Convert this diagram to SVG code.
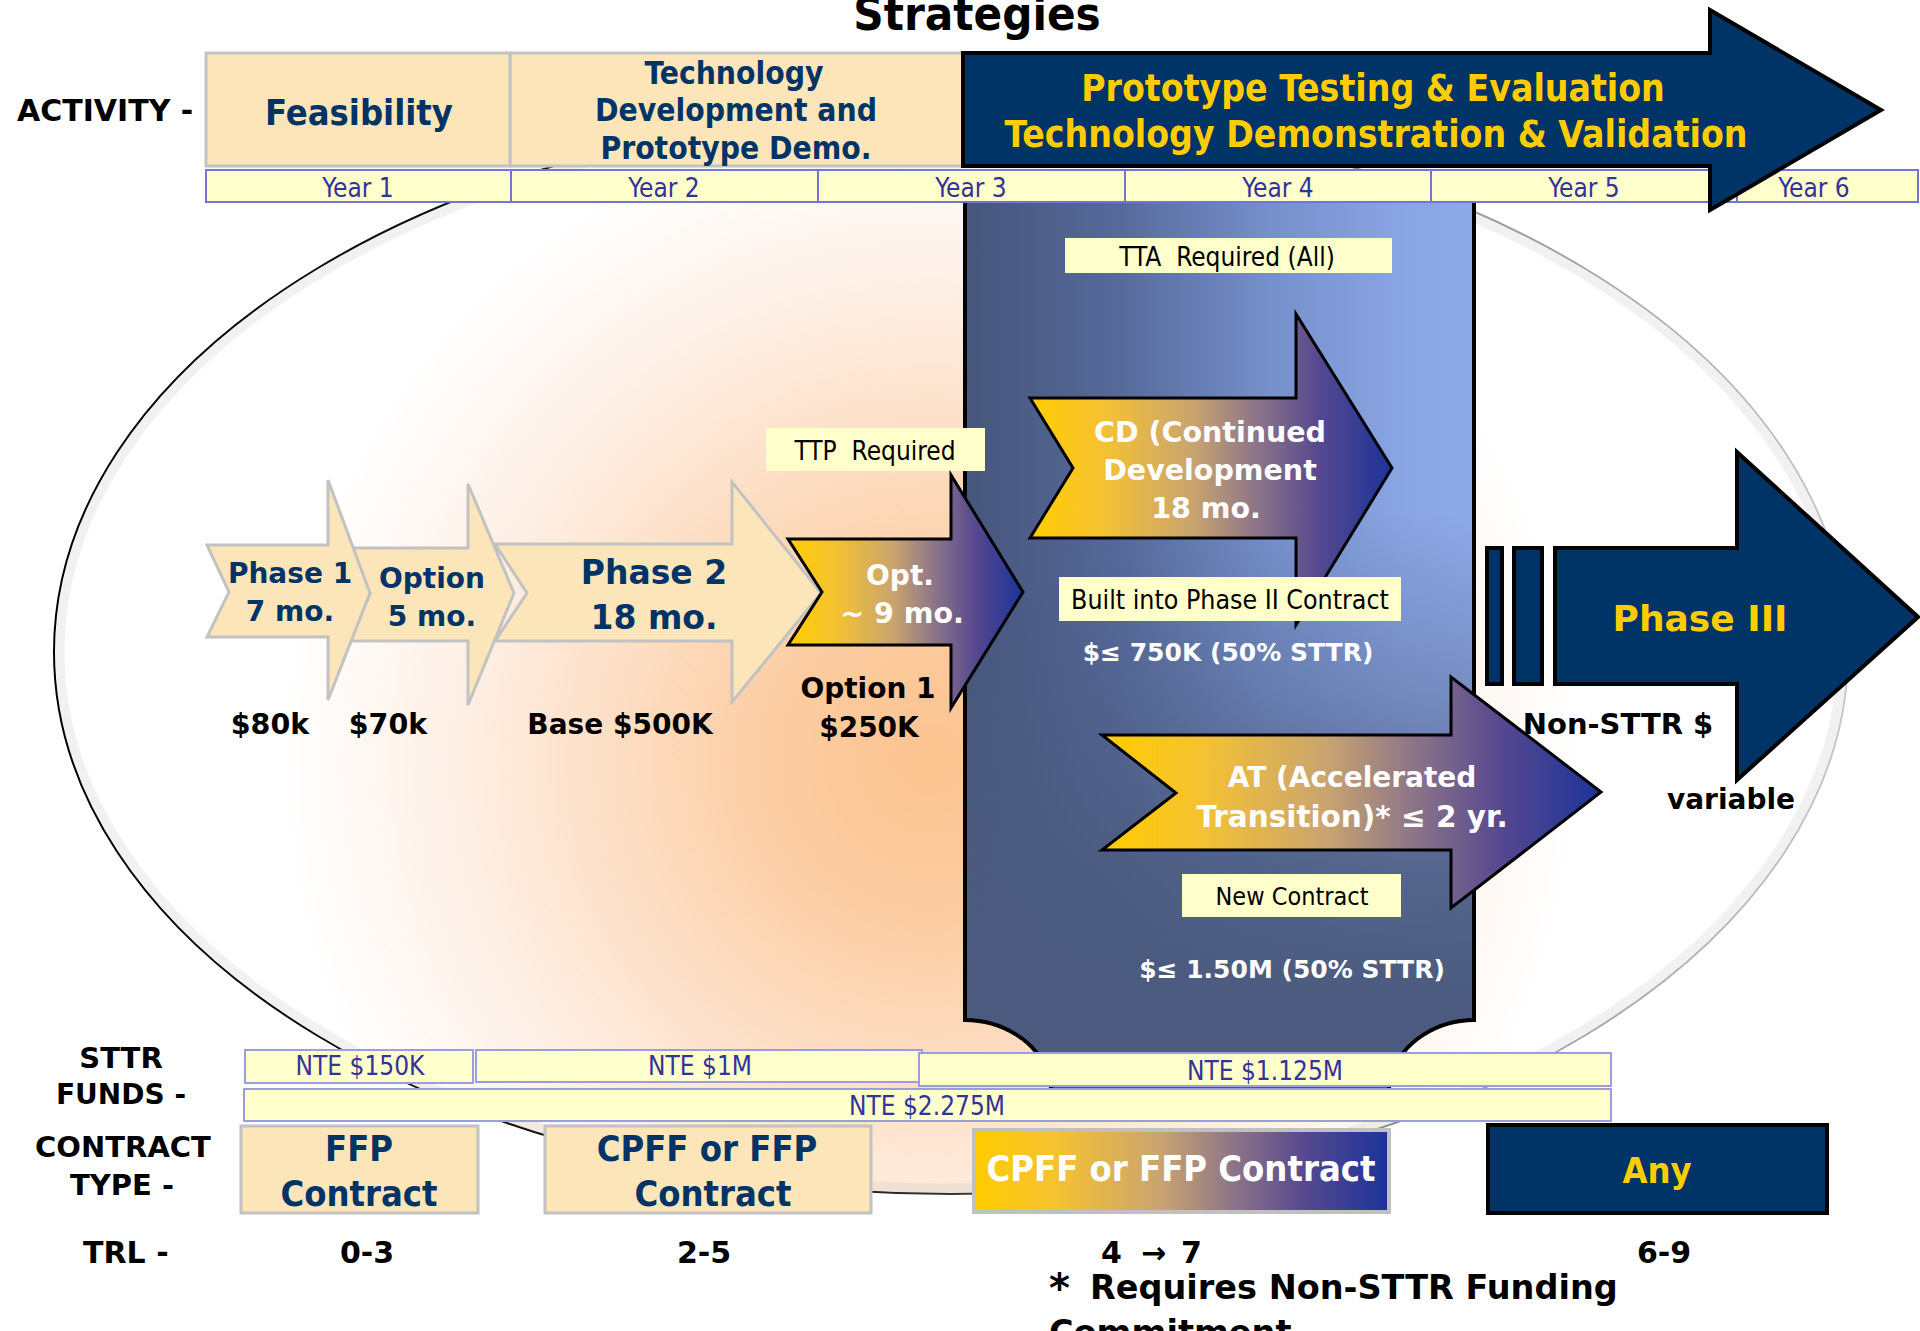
<svg xmlns="http://www.w3.org/2000/svg" width="1920" height="1331" viewBox="0 0 1920 1331">
<defs>
<style>
.b{font-family:'DejaVu Sans',Verdana,sans-serif;font-weight:bold}
.c{font-family:'DejaVu Sans Condensed','DejaVu Sans',sans-serif;font-stretch:condensed}
.cb{font-family:'DejaVu Sans Condensed','DejaVu Sans',sans-serif;font-stretch:condensed;font-weight:bold}
.m{text-anchor:middle}
.pre{white-space:pre}
.navy{fill:#003366}
.yel{fill:#FFCC00}
.wh{fill:#FFFFFF}
.blk{fill:#000000}
.yr{fill:#FFFFCC;stroke:#7474D4;stroke-width:2}
.yrt{fill:#333399}
.nte{fill:#FFFFCC;stroke:#9C9CE0;stroke-width:2}
.note{fill:#FFFFCC}
.tan{fill:#FCE5B9;stroke:#C2C2C2;stroke-width:3}
.grad{fill:url(#yb);stroke:#000;stroke-width:3;stroke-linejoin:miter}
.dark{fill:#003366;stroke:#000;stroke-width:4}
</style>
<linearGradient id="yb" x1="0" y1="0" x2="1" y2="0">
<stop offset="0" stop-color="#FFCC00"/>
<stop offset="0.2" stop-color="#F5C232"/>
<stop offset="0.45" stop-color="#C9A470"/>
<stop offset="0.62" stop-color="#8E7688"/>
<stop offset="0.8" stop-color="#55488F"/>
<stop offset="1" stop-color="#1C3399"/>
</linearGradient>
<radialGradient id="peach" gradientUnits="userSpaceOnUse" cx="930" cy="760" r="650">
<stop offset="0" stop-color="#FBC38F"/>
<stop offset="0.25" stop-color="#FCCDA3"/>
<stop offset="0.5" stop-color="#FDDFC6"/>
<stop offset="0.75" stop-color="#FEF1E8"/>
<stop offset="1" stop-color="#FFFFFF"/>
</radialGradient>
<linearGradient id="edge" gradientUnits="userSpaceOnUse" x1="54" y1="0" x2="1848" y2="0">
<stop offset="0" stop-color="#000"/>
<stop offset="0.45" stop-color="#222"/>
<stop offset="0.72" stop-color="#888"/>
<stop offset="1" stop-color="#C8C8C8"/>
</linearGradient>
<linearGradient id="panelH" x1="0" y1="0" x2="1" y2="0">
<stop offset="0" stop-color="#46557A"/>
<stop offset="0.3" stop-color="#56699A"/>
<stop offset="0.6" stop-color="#7690CB"/>
<stop offset="0.85" stop-color="#89A4E2"/>
<stop offset="1" stop-color="#8EAAE8"/>
</linearGradient>
<linearGradient id="panelV" x1="0" y1="0" x2="0" y2="1">
<stop offset="0" stop-color="#4B5A7E" stop-opacity="0"/>
<stop offset="0.35" stop-color="#4B5A7E" stop-opacity="0"/>
<stop offset="0.55" stop-color="#4B5A7E" stop-opacity="0.35"/>
<stop offset="0.75" stop-color="#4B5A7E" stop-opacity="0.85"/>
<stop offset="0.9" stop-color="#4B5A7E" stop-opacity="1"/>
</linearGradient>
</defs>

<rect width="1920" height="1331" fill="#FFFFFF"/>

<g id="background-ellipse">
<ellipse cx="951" cy="652" rx="897" ry="542" fill="url(#peach)" stroke="url(#edge)" stroke-width="2"/>
<ellipse cx="951" cy="652" rx="891" ry="536" fill="none" stroke="#BBBBBB" stroke-opacity="0.2" stroke-width="9"/>
</g>

<g id="title"><text class="cb m blk" x="977" y="30" font-size="47">Strategies</text></g>

<g id="phase2">
<path class="tan" d="M495,544 L732,544 L732,482 L821,593 L732,702 L732,641 L495,641 L527,593 Z"/>
<text class="b m navy" x="654" y="584" font-size="33">Phase 2</text>
<text class="b m navy" x="654" y="629" font-size="33">18 mo.</text>
</g>
<g id="option">
<path class="tan" d="M349,548 L468,548 L468,484 L514,593 L468,705 L468,641 L349,641 L370,594 Z"/>
<text class="b m navy" x="432" y="588" font-size="28">Option</text>
<text class="b m navy" x="432" y="626" font-size="28">5 mo.</text>
</g>
<g id="phase1">
<path class="tan" d="M207,545 L328,545 L328,480 L370,593 L328,700 L328,637 L207,637 L229,592 Z"/>
<text class="b m navy" x="290" y="583" font-size="28">Phase 1</text>
<text class="b m navy" x="290" y="621" font-size="28">7 mo.</text>
</g>
<g id="costs">
<text class="b m blk" x="270" y="734" font-size="28.5">$80k</text>
<text class="b m blk" x="388" y="734" font-size="28.5">$70k</text>
<text class="b m blk" x="620" y="734" font-size="28">Base $500K</text>
<text class="b m blk" x="868" y="698" font-size="28">Option 1</text>
<text class="b m blk" x="869" y="737" font-size="28">$250K</text>
</g>

<g id="phase2-panel">
<path d="M965,200 L1474,200 L1474,1020 C1440,1020 1402,1040 1392,1075 L1388,1092 L1052,1092 L1048,1075 C1038,1040 1000,1020 965,1020 Z" fill="url(#panelH)"/>
<path d="M965,200 L1474,200 L1474,1020 C1440,1020 1402,1040 1392,1075 L1388,1092 L1052,1092 L1048,1075 C1038,1040 1000,1020 965,1020 Z" fill="url(#panelV)" stroke="#000" stroke-width="4"/>
</g>

<g id="ttp">
<rect class="note" x="766" y="428" width="219" height="43"/>
<text class="c m blk pre" xml:space="preserve" x="875" y="460" font-size="26">TTP  Required</text>
</g>
<g id="opt">
<path class="grad" d="M788,539 L951,539 L951,475 L1023,592 L951,708 L951,645 L788,645 L822,592 Z"/>
<text class="b m wh" x="900" y="585" font-size="28">Opt.</text>
<text class="b m wh" x="902" y="623" font-size="28.5">~ 9 mo.</text>
</g>

<g id="tta">
<rect class="note" x="1065" y="238" width="327" height="35"/>
<text class="c m blk pre" xml:space="preserve" x="1227" y="266" font-size="26">TTA  Required (All)</text>
</g>
<g id="cd">
<path class="grad" d="M1030,398 L1296,398 L1296,314 L1392,468 L1296,625 L1296,538 L1030,538 L1073,468 Z"/>
<text class="b m wh" x="1210" y="442" font-size="28.5">CD (Continued</text>
<text class="b m wh" x="1210" y="480" font-size="28.5">Development</text>
<text class="b m wh" x="1206" y="518" font-size="28.5">18 mo.</text>
</g>
<g id="built">
<rect class="note" x="1059" y="577" width="342" height="44"/>
<text class="c m blk" x="1230" y="609" font-size="26.5">Built into Phase II Contract</text>
<text class="b m wh" x="1228" y="661" font-size="25">$≤ 750K (50% STTR)</text>
</g>
<g id="at">
<path class="grad" d="M1102,735 L1451,735 L1451,677 L1601,792 L1451,908 L1451,850 L1102,850 L1176,793 Z"/>
<text class="b m wh" x="1352" y="787" font-size="28">AT (Accelerated</text>
<text class="b m wh" x="1352" y="827" font-size="29.5">Transition)* ≤ 2 yr.</text>
</g>
<g id="newcontract">
<rect class="note" x="1182" y="874" width="219" height="43"/>
<text class="c m blk" x="1292" y="905" font-size="25">New Contract</text>
<text class="b m wh" x="1292" y="978" font-size="25">$≤ 1.50M (50% STTR)</text>
</g>

<g id="phase3">
<rect class="dark" x="1487" y="548" width="15" height="136" stroke-width="3"/>
<rect class="dark" x="1514" y="548" width="28" height="136" stroke-width="3"/>
<path class="dark" stroke-width="3" d="M1555,548 L1737,548 L1737,452 L1918,617 L1737,780 L1737,684 L1555,684 Z"/>
<text class="b m yel" x="1700" y="631" font-size="36">Phase III</text>
<text class="b m blk" x="1618" y="734" font-size="29">Non-STTR $</text>
<text class="b m blk" x="1731" y="809" font-size="28">variable</text>
</g>

<g id="activity-row">
<text class="b blk" x="17" y="121" font-size="30">ACTIVITY -</text>
<rect class="tan" x="510" y="53" width="462" height="113" stroke-width="4"/>
<rect class="tan" x="206" y="53" width="304" height="113" stroke-width="4"/>
<text class="cb m navy" x="359" y="125" font-size="36">Feasibility</text>
<text class="cb m navy" x="734" y="84" font-size="31.5">Technology</text>
<text class="cb m navy" x="736" y="121" font-size="31.5">Development and</text>
<text class="cb m navy" x="736" y="159" font-size="31.5">Prototype Demo.</text>
</g>

<g id="years">
<rect class="yr" x="206" y="170" width="305" height="32"/>
<rect class="yr" x="511" y="170" width="307" height="32"/>
<rect class="yr" x="818" y="170" width="307" height="32"/>
<rect class="yr" x="1125" y="170" width="306" height="32"/>
<rect class="yr" x="1431" y="170" width="306" height="32"/>
<rect class="yr" x="1737" y="170" width="181" height="32"/>
<text class="c m yrt" x="358" y="197" font-size="26">Year 1</text>
<text class="c m yrt" x="664" y="197" font-size="26">Year 2</text>
<text class="c m yrt" x="971" y="197" font-size="26">Year 3</text>
<text class="c m yrt" x="1278" y="197" font-size="26">Year 4</text>
<text class="c m yrt" x="1584" y="197" font-size="26">Year 5</text>
<text class="c m yrt" x="1814" y="197" font-size="26">Year 6</text>
</g>

<g id="prototype-arrow">
<path class="dark" d="M963,53 L1710,53 L1710,10 L1881,110 L1710,210 L1710,166 L963,166 Z"/>
<text class="cb m yel" x="1373" y="101" font-size="37">Prototype Testing &amp; Evaluation</text>
<text class="cb m yel" x="1376" y="147" font-size="37">Technology Demonstration &amp; Validation</text>
</g>

<g id="funds">
<text class="b m blk" x="121" y="1068" font-size="29">STTR</text>
<text class="b m blk" x="121" y="1104" font-size="28">FUNDS -</text>
<rect class="nte" x="476" y="1050" width="446" height="32"/>
<rect class="nte" x="245" y="1050" width="228" height="33"/>
<rect class="nte" x="919" y="1053" width="692" height="33"/>
<rect class="nte" x="244" y="1089" width="1367" height="32"/>
<text class="c m yrt" x="360" y="1075" font-size="26">NTE $150K</text>
<text class="c m yrt" x="700" y="1075" font-size="26">NTE $1M</text>
<text class="c m yrt" x="1265" y="1080" font-size="26">NTE $1.125M</text>
<text class="c m yrt" x="927" y="1115" font-size="26">NTE $2.275M</text>
</g>

<g id="contracts">
<text class="b m blk" x="123" y="1157" font-size="29">CONTRACT</text>
<text class="b m blk" x="122" y="1195" font-size="29">TYPE -</text>
<rect class="tan" x="241" y="1126" width="237" height="87"/>
<text class="cb m navy" x="359" y="1161" font-size="36">FFP</text>
<text class="cb m navy" x="359" y="1206" font-size="36">Contract</text>
<rect class="tan" x="545" y="1126" width="326" height="87"/>
<text class="cb m navy" x="707" y="1161" font-size="36">CPFF or FFP</text>
<text class="cb m navy" x="713" y="1206" font-size="36">Contract</text>
<rect x="974" y="1130" width="415" height="82" fill="url(#yb)" stroke="#C0C0C0" stroke-width="4"/>
<text class="cb m wh" x="1181" y="1181" font-size="36">CPFF or FFP Contract</text>
<rect class="dark" x="1488" y="1125" width="339" height="88"/>
<text class="cb m yel" x="1657" y="1183" font-size="36">Any</text>
</g>

<g id="trl">
<text class="b blk" x="83" y="1263" font-size="30">TRL -</text>
<text class="b m blk" x="367" y="1263" font-size="30">0-3</text>
<text class="b m blk" x="704" y="1263" font-size="30">2-5</text>
<text class="b blk" y="1263" font-size="30"><tspan x="1101">4</tspan><tspan x="1141">→</tspan><tspan x="1181">7</tspan></text>
<text class="b m blk" x="1664" y="1263" font-size="30">6-9</text>
</g>

<g id="footnote">
<text class="b blk" x="1049" y="1302" font-size="40">*</text>
<text class="b blk" x="1090" y="1299" font-size="33.5">Requires Non-STTR Funding</text>
<text class="b blk" x="1049" y="1344" font-size="33.5">Commitment</text>
</g>
</svg>
